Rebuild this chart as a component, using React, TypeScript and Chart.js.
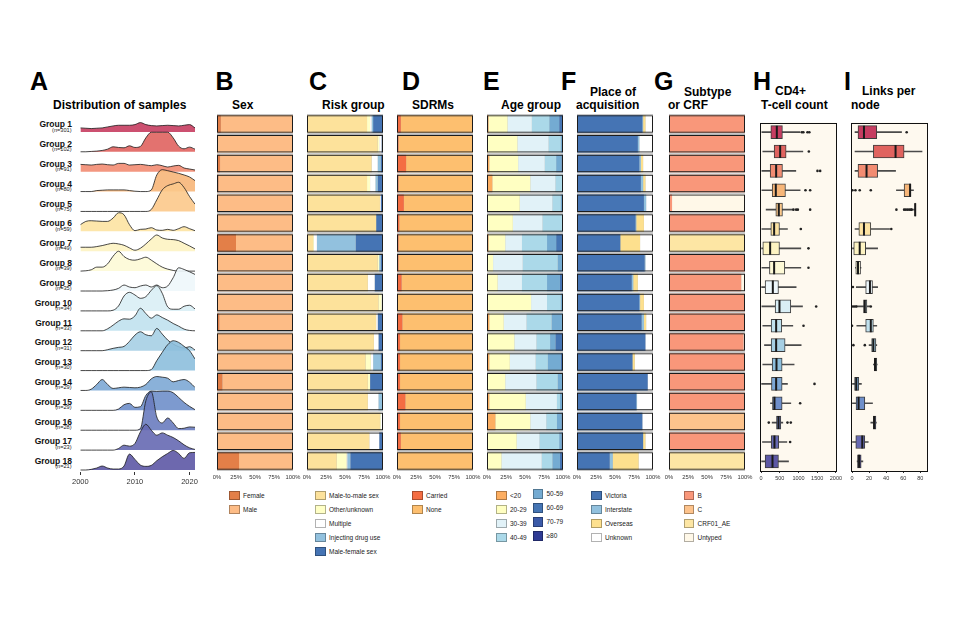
import React, { useEffect, useRef } from "react";
import { Chart, registerables } from "chart.js";

Chart.register(...registerables);

const FONT = "'Liberation Sans', Arial, Helvetica, sans-serif";
Chart.defaults.font.family = FONT;

// ---------------- data ----------------
const GROUPS = [
  "Group 1", "Group 2", "Group 3", "Group 4", "Group 5", "Group 6", "Group 7", "Group 8", "Group 9",
  "Group 10", "Group 11", "Group 12", "Group 13", "Group 14", "Group 15", "Group 16", "Group 17", "Group 18",
];
const GROUP_N = [301, 102, 91, 80, 75, 59, 49, 39, 35, 34, 33, 31, 30, 29, 29, 28, 23, 21];
const GROUP_COLORS = [
  "#c63d61", "#e0635f", "#f28c72", "#f7b679", "#fcc98b", "#fde3a2", "#fdf3c2", "#fdf9d6", "#eef7fb",
  "#d9eef5", "#c0e1ee", "#a6cfe4", "#8dbfdd", "#7da8d5", "#6f8fca", "#6a7cbf", "#6669b3", "#5d58a5",
];

// Panel A: sample density per year (row height = 60 units)
const YEARS = [2000, 2001, 2002, 2003, 2004, 2005, 2006, 2007, 2008, 2009, 2010, 2011, 2012, 2013, 2014, 2015, 2016, 2017, 2018, 2019, 2020, 2021];
const YEAR_TICKS = [2000, 2010, 2020];
const RIDGE_DENSITY: number[][] = [
  [12, 11, 10, 11, 12, 15, 18, 20, 20, 20, 22, 28, 22, 19, 18, 19, 20, 19, 18, 20, 22, 12],
  [0, 0, 1, 2, 4, 8, 15, 13, 12, 18, 13, 16, 42, 59, 59, 59, 59, 42, 17, 9, 14, 8],
  [22, 21, 20, 22, 23, 21, 20, 25, 25, 20, 21, 22, 20, 18, 21, 18, 14, 17, 19, 11, 8, 5],
  [0, 0, 0, 3, 4, 5, 5, 5, 5, 3, 1, 0, 0, 5, 50, 66, 63, 59, 55, 50, 44, 33],
  [0, 0, 0, 0, 0, 0, 0, 0, 0, 0, 0, 0, 0, 6, 35, 65, 78, 83, 88, 72, 45, 22],
  [20, 30, 32, 31, 30, 30, 40, 56, 50, 20, 2, 6, 7, 11, 4, 3, 6, 3, 8, 14, 8, 2],
  [12, 12, 12, 14, 17, 21, 24, 22, 18, 10, 3, 9, 22, 37, 49, 40, 36, 35, 32, 24, 16, 7],
  [0, 1, 4, 12, 12, 22, 45, 60, 44, 35, 33, 37, 42, 33, 22, 12, 6, 2, 0, 0, 0, 0],
  [0, 0, 0, 0, 0, 1, 3, 8, 18, 12, 10, 15, 18, 12, 18, 10, 15, 40, 70, 65, 58, 50],
  [0, 0, 0, 0, 0, 0, 2, 15, 45, 56, 48, 38, 43, 62, 76, 53, 12, 5, 5, 14, 17, 6],
  [0, 0, 0, 0, 0, 6, 17, 29, 36, 35, 45, 68, 52, 38, 48, 40, 32, 22, 14, 5, 1, 0],
  [0, 0, 0, 0, 0, 3, 7, 10, 13, 28, 47, 57, 48, 45, 67, 50, 32, 20, 12, 8, 12, 2],
  [0, 0, 0, 0, 0, 0, 0, 0, 0, 0, 0, 0, 0, 3, 30, 55, 78, 90, 85, 73, 60, 35],
  [0, 0, 4, 18, 33, 18, 6, 8, 10, 9, 8, 10, 18, 35, 42, 40, 37, 26, 30, 33, 25, 9],
  [0, 0, 0, 0, 0, 0, 0, 4, 17, 21, 9, 11, 45, 58, 57, 58, 58, 53, 39, 24, 12, 2],
  [0, 0, 0, 0, 0, 0, 0, 0, 0, 0, 0, 5, 89, 116, 40, 22, 37, 22, 5, 6, 10, 9],
  [0, 0, 0, 0, 0, 0, 0, 5, 15, 12, 20, 55, 78, 60, 45, 52, 45, 38, 28, 16, 7, 2],
  [0, 0, 2, 6, 12, 6, 3, 3, 12, 48, 32, 15, 11, 14, 28, 40, 50, 59, 50, 35, 52, 53],
];

const PCT_TICKS = [0, 25, 50, 75, 100];

// Panel B: sex (%)
const SEX_FEMALE = [5, 1, 4, 2, 0, 0, 25, 0, 0, 0, 3, 0, 0, 7, 0, 0, 0, 29];
const SEX_MALE = [95, 99, 96, 98, 100, 100, 75, 100, 100, 100, 97, 100, 100, 93, 100, 100, 100, 71];

// Panel C: risk group (%)
const RISK_MSM = [79, 93, 85, 79, 96, 91, 8, 93, 80, 94, 91, 88, 77, 80, 80, 96, 82, 39];
const RISK_OTHER = [4, 2, 0, 4, 0, 0, 1, 2, 0, 4, 0, 0, 7, 3, 0, 1, 0, 13];
const RISK_MULTIPLE = [2, 3, 8, 7, 1, 0, 4, 0, 9, 2, 2, 6, 3, 0, 14, 3, 13, 1];
const RISK_IDU = [2, 0, 4, 3, 0, 0, 51, 2, 0, 0, 0, 0, 10, 0, 6, 0, 0, 4];
const RISK_MFS = [13, 2, 3, 7, 3, 9, 36, 3, 11, 0, 7, 6, 3, 17, 0, 0, 5, 43];

// Panel D: SDRMs (%)
const SDRM_CARRIED = [5, 2, 12, 2, 9, 3, 2, 2, 6, 0, 7, 4, 4, 4, 11, 4, 5, 0];
const SDRM_NONE = [95, 98, 88, 98, 91, 97, 98, 98, 94, 100, 93, 96, 96, 96, 89, 96, 95, 100];

// Panel E: age group (%)
const AGE_LT20 = [2, 1, 3, 7, 1, 0, 2, 0, 1, 0, 3, 0, 3, 0, 3, 11, 0, 0];
const AGE_20_29 = [25, 39, 38, 50, 42, 34, 22, 8, 13, 58, 19, 36, 27, 24, 48, 46, 39, 19];
const AGE_30_39 = [32, 41, 35, 33, 43, 39, 22, 39, 32, 21, 30, 29, 34, 41, 41, 21, 30, 53];
const AGE_40_49 = [23, 16, 15, 10, 11, 26, 33, 46, 33, 18, 33, 18, 16, 28, 4, 14, 26, 14];
const AGE_50_59 = [13, 2, 7, 0, 2, 1, 12, 6, 17, 2, 15, 7, 17, 6, 3, 6, 3, 10];
const AGE_60_69 = [4, 1, 2, 0, 1, 0, 8, 1, 3, 1, 0, 9, 3, 1, 1, 2, 2, 3];
const AGE_70_79 = [1, 0, 0, 0, 0, 0, 1, 0, 1, 0, 0, 1, 0, 0, 0, 0, 0, 1];
const AGE_80P = [0, 0, 0, 0, 0, 0, 0, 0, 0, 0, 0, 0, 0, 0, 0, 0, 0, 0];

// Panel F: place of acquisition (%)
const PLACE_VIC = [86, 80, 82, 84, 88, 77, 57, 89, 72, 82, 85, 90, 73, 93, 78, 86, 87, 43];
const PLACE_INTER = [1, 2, 2, 3, 3, 1, 0, 1, 2, 1, 3, 0, 0, 0, 1, 0, 0, 4];
const PLACE_OVERSEAS = [3, 0, 3, 3, 0, 10, 26, 0, 6, 5, 3, 0, 3, 0, 0, 0, 3, 34];
const PLACE_UNKNOWN = [10, 18, 13, 10, 9, 12, 17, 10, 20, 12, 9, 10, 24, 7, 21, 14, 10, 19];

// Panel G: subtype (%)
const SUB_B = [100, 100, 100, 100, 4, 100, 0, 100, 95, 100, 100, 98, 100, 100, 100, 0, 100, 0];
const SUB_C = [0, 0, 0, 0, 0, 0, 0, 0, 0, 0, 0, 0, 0, 0, 0, 100, 0, 0];
const SUB_CRF01 = [0, 0, 0, 0, 0, 0, 100, 0, 0, 0, 0, 0, 0, 0, 0, 0, 0, 100];
const SUB_UNTYPED = [0, 0, 0, 0, 96, 0, 0, 0, 5, 0, 0, 2, 0, 0, 0, 0, 0, 0];

// Panel H: CD4+ T-cell count
const CD4_TICKS = [0, 500, 1000, 1500, 2000];
const CD4_LOW = [20, 45, 20, 20, 134, 20, 0, 20, 0, 20, 45, 90, 45, 0, 250, 295, 36, 0];
const CD4_Q1 = [260, 348, 241, 295, 393, 259, 45, 223, 107, 375, 268, 268, 295, 277, 304, 411, 268, 107];
const CD4_MED = [420, 509, 402, 393, 473, 348, 241, 348, 313, 491, 402, 402, 411, 402, 357, 465, 357, 304];
const CD4_Q3 = [570, 669, 571, 651, 571, 491, 491, 634, 464, 794, 553, 642, 562, 562, 562, 527, 473, 464];
const CD4_HIGH = [1040, 1116, 928, 1044, 848, 705, 1062, 1062, 937, 1107, 848, 1071, 883, 705, 794, 580, 688, 733];
const CD4_OUTLIERS: number[][] = [
  [1090, 1130, 1240, 1290], [1277], [1508, 1580], [1187, 1312], [866, 937, 982, 1312], [1062], [1267], [1267], [],
  [1473], [1134], [], [], [1428], [1044], [205, 705, 794], [776], [],
];

// Panel I: links per node
const LINK_TICKS = [0, 20, 40, 60, 80];
const LINK_LOW = [3.5, 3.5, 3.5, 52, 72, 3.5, 0, 4, 5, 4.4, 5.6, 20, 25, 0, 0.5, 22, 0, 6];
const LINK_Q1 = [7, 25, 7, 61, 73.5, 8, 2, 4.4, 16, 13.5, 16, 23, 26, 3, 4.7, 25, 4.4, 6.4];
const LINK_MED = [14, 51, 17, 68, 74, 14, 9, 7, 21, 15, 22, 25, 27, 5, 7.7, 26, 12, 8.3];
const LINK_Q3 = [29, 61, 30, 69, 74.5, 22, 16, 10, 24, 17.4, 25, 28, 29, 8, 15, 28, 15, 10.7];
const LINK_HIGH = [58, 82, 51, 72, 74.5, 44, 30, 10.5, 30, 21, 29, 29, 29.5, 11, 24, 28.5, 19, 12.7];
const LINK_OUTLIERS: number[][] = [
  [64], [], [], [0.5, 4, 9, 22], [52, 61, 63, 65, 67, 69, 70], [46], [], [], [1],
  [1, 3, 5, 22], [0], [1.6, 15], [], [], [], [], [], [],
];

// ---------------- series definitions ----------------
type Series = { label: string; data: number[]; color: string };

const SEX_SERIES: Series[] = [
  { label: "Female", data: SEX_FEMALE, color: "#e37f48" },
  { label: "Male", data: SEX_MALE, color: "#fdbc86" },
];
const RISK_SERIES: Series[] = [
  { label: "Male-to-male sex", data: RISK_MSM, color: "#fde29b" },
  { label: "Other/unknown", data: RISK_OTHER, color: "#ffffc6" },
  { label: "Multiple", data: RISK_MULTIPLE, color: "#ffffff" },
  { label: "Injecting drug use", data: RISK_IDU, color: "#92c1de" },
  { label: "Male-female sex", data: RISK_MFS, color: "#4574b4" },
];
const SDRM_SERIES: Series[] = [
  { label: "Carried", data: SDRM_CARRIED, color: "#f46d43" },
  { label: "None", data: SDRM_NONE, color: "#fdbf6f" },
];
const AGE_SERIES: Series[] = [
  { label: "<20", data: AGE_LT20, color: "#fdae61" },
  { label: "20-29", data: AGE_20_29, color: "#ffffc2" },
  { label: "30-39", data: AGE_30_39, color: "#e1f2f8" },
  { label: "40-49", data: AGE_40_49, color: "#abd9e9" },
  { label: "50-59", data: AGE_50_59, color: "#74abd2" },
  { label: "60-69", data: AGE_60_69, color: "#4575b4" },
  { label: "70-79", data: AGE_70_79, color: "#3b5aa8" },
  { label: "\u226580", data: AGE_80P, color: "#2f3b94" },
];
const PLACE_SERIES: Series[] = [
  { label: "Victoria", data: PLACE_VIC, color: "#4574b4" },
  { label: "Interstate", data: PLACE_INTER, color: "#92c1de" },
  { label: "Overseas", data: PLACE_OVERSEAS, color: "#fde08e" },
  { label: "Unknown", data: PLACE_UNKNOWN, color: "#ffffff" },
];
const SUB_SERIES: Series[] = [
  { label: "B", data: SUB_B, color: "#f9977a" },
  { label: "C", data: SUB_C, color: "#fdc38c" },
  { label: "CRF01_AE", data: SUB_CRF01, color: "#fde6a4" },
  { label: "Untyped", data: SUB_UNTYPED, color: "#fff8e8" },
];

// ---------------- helpers ----------------
const AREA_TOP = 114;
const AREA_H = 357;
const AXIS_H = 14;
const ROW_UNITS = 60;

function hexA(hex: string, a: number) {
  const n = parseInt(hex.slice(1), 16);
  return `rgba(${(n >> 16) & 255},${(n >> 8) & 255},${n & 255},${a})`;
}

const panelPlugin = {
  id: "panelFrame",
  beforeDraw(chart: any, _args: any, opts: any) {
    if (!opts || !opts.bg) return;
    const { ctx, chartArea: a } = chart;
    ctx.save();
    ctx.fillStyle = opts.bg;
    ctx.fillRect(a.left, a.top, a.width, a.height);
    ctx.restore();
  },
  afterDatasetsDraw(chart: any, _args: any, opts: any) {
    if (!opts || !opts.border) return;
    const { ctx, chartArea: a } = chart;
    ctx.save();
    ctx.strokeStyle = opts.border;
    ctx.lineWidth = 1;
    ctx.strokeRect(Math.round(a.left) + 0.5, Math.round(a.top) + 0.5, Math.round(a.width) - 1, Math.round(a.height) - 1);
    ctx.restore();
  },
};

function fixedTicks(values: number[]) {
  return (scale: any) => {
    scale.ticks = values.map((v) => ({ value: v }));
  };
}

function ChartBox(props: { left: number; top: number; width: number; height: number; make: () => any }) {
  const ref = useRef<HTMLCanvasElement>(null);
  useEffect(() => {
    const chart = new Chart(ref.current as HTMLCanvasElement, props.make());
    return () => chart.destroy();
  }, []);
  return (
    <canvas
      ref={ref}
      width={props.width}
      height={props.height}
      style={{ position: "absolute", left: props.left, top: props.top, width: props.width, height: props.height }}
    />
  );
}

function stackedConfig(series: Series[]) {
  const BAR_PCT = 0.88;
  return {
    type: "bar",
    data: {
      labels: GROUPS,
      datasets: [
        ...series.map((s) => ({
          label: s.label,
          data: s.data,
          backgroundColor: s.color,
          borderWidth: 0,
          barPercentage: BAR_PCT,
          categoryPercentage: 1,
          stack: "main",
        })),
        {
          label: "outline",
          data: GROUPS.map(() => 100),
          backgroundColor: "rgba(0,0,0,0)",
          borderColor: "#1c1c1c",
          borderWidth: 1,
          borderSkipped: false,
          barPercentage: BAR_PCT,
          categoryPercentage: 1,
          grouped: false,
          stack: "outline",
          order: -1,
        },
        {
          label: "gap",
          data: GROUPS.map(() => 100),
          backgroundColor: "#b4b4b4",
          borderWidth: 0,
          barPercentage: 0.985,
          categoryPercentage: 1,
          grouped: false,
          stack: "gap",
          order: 20,
        },
      ],
    },
    options: {
      indexAxis: "y",
      animation: false,
      responsive: false,
      devicePixelRatio: 1,
      layout: { padding: { left: 12, right: 12, top: 0, bottom: 0 } },
      plugins: { legend: { display: false }, tooltip: { enabled: false } },
      scales: {
        x: {
          type: "linear",
          stacked: true,
          min: 0,
          max: 100,
          afterBuildTicks: fixedTicks(PCT_TICKS),
          afterFit: (s: any) => {
            s.height = AXIS_H;
          },
          ticks: {
            font: { size: 5.8, family: FONT },
            color: "#333",
            padding: 3,
            maxRotation: 0,
            autoSkip: false,
            callback: (v: any) => v + "%",
          },
          grid: { display: false, drawTicks: false },
          border: { display: false },
        },
        y: { type: "category", stacked: true, display: false, offset: true },
      },
    },
  };
}

function boxConfig(
  low: number[], q1: number[], med: number[], q3: number[], high: number[], outliers: number[][],
  min: number, max: number, ticks: number[],
) {
  const outlierPts: { x: number; y: string }[] = [];
  outliers.forEach((arr, i) => arr.forEach((v) => outlierPts.push({ x: v, y: GROUPS[i] })));
  return {
    type: "bar",
    data: {
      labels: GROUPS,
      datasets: [
        {
          type: "bar",
          label: "whisker",
          data: GROUPS.map((_, i) => [low[i], high[i]]),
          backgroundColor: "#4a4a4a",
          borderWidth: 0,
          barThickness: 1,
          grouped: false,
          order: 3,
        },
        {
          type: "bar",
          label: "box",
          data: GROUPS.map((_, i) => [q1[i], q3[i]]),
          backgroundColor: GROUP_COLORS,
          borderColor: "#3c3c3c",
          borderWidth: 1,
          borderSkipped: false,
          barThickness: 13,
          grouped: false,
          order: 2,
        },
        {
          type: "scatter",
          label: "median",
          data: GROUPS.map((g, i) => ({ x: med[i], y: g })),
          pointStyle: "line",
          pointRotation: 90,
          pointRadius: 6.5,
          pointBorderColor: "#1a1a1a",
          pointBorderWidth: 2,
          order: 1,
        },
        {
          type: "scatter",
          label: "outliers",
          data: outlierPts,
          pointRadius: 1.3,
          pointBackgroundColor: "#222",
          pointBorderWidth: 0,
          order: 0,
        },
      ],
    },
    options: {
      indexAxis: "y",
      animation: false,
      responsive: false,
      devicePixelRatio: 1,
      layout: { padding: { left: 10, right: 10, top: 0, bottom: 0 } },
      plugins: {
        legend: { display: false },
        tooltip: { enabled: false },
        panelFrame: { bg: "#fef9ef", border: "#111" },
      },
      scales: {
        x: {
          type: "linear",
          min,
          max,
          afterBuildTicks: fixedTicks(ticks),
          afterFit: (s: any) => {
            s.height = AXIS_H;
          },
          ticks: {
            font: { size: 5.5, family: FONT },
            color: "#333",
            padding: 2,
            maxRotation: 0,
            autoSkip: false,
            callback: (v: any) => String(v),
          },
          grid: { display: true, drawOnChartArea: false, drawTicks: true, tickLength: 2, color: "#333" },
          border: { display: false },
        },
        y: { type: "category", display: false, offset: true },
      },
    },
    plugins: [panelPlugin],
  };
}

function ridgeConfig() {
  return {
    type: "line",
    data: {
      datasets: GROUPS.map((g, i) => {
        const base = (GROUPS.length - 1 - i) * ROW_UNITS;
        return {
          label: g,
          data: YEARS.map((yr, j) => ({ x: yr, y: base + RIDGE_DENSITY[i][j] })),
          fill: { value: base },
          backgroundColor: hexA(GROUP_COLORS[i], 0.9),
          borderColor: "#1a1a1a",
          borderWidth: 0.8,
          pointRadius: 0,
          cubicInterpolationMode: "monotone",
          order: GROUPS.length - 1 - i,
        };
      }),
    },
    options: {
      animation: false,
      responsive: false,
      devicePixelRatio: 1,
      layout: { padding: { left: 10, right: 10, top: 0, bottom: 0 } },
      plugins: { legend: { display: false }, tooltip: { enabled: false } },
      scales: {
        x: {
          type: "linear",
          min: 2000,
          max: 2021,
          afterBuildTicks: fixedTicks(YEAR_TICKS),
          afterFit: (s: any) => {
            s.height = AXIS_H;
          },
          ticks: {
            font: { size: 7.5, family: FONT },
            color: "#333",
            padding: 2,
            maxRotation: 0,
            autoSkip: false,
            callback: (v: any) => String(v),
          },
          grid: { display: true, drawOnChartArea: false, drawTicks: true, tickLength: 3, color: "#333" },
          border: { display: false },
        },
        y: { type: "linear", display: false, min: -6, max: 1080 },
      },
    },
  };
}

// ---------------- text helpers ----------------
function Txt(props: {
  x: number; y: number; size: number; bold?: boolean; align?: "left" | "right"; color?: string; children: any;
}) {
  const { x, y, size, bold, align = "left", color = "#000" } = props;
  const style: any = {
    position: "absolute",
    top: y - 0.49 * size,
    fontSize: size,
    lineHeight: `${size}px`,
    fontFamily: FONT,
    fontWeight: bold ? 700 : 400,
    whiteSpace: "nowrap",
    color,
  };
  if (align === "right") {
    style.left = x - 200;
    style.width = 200;
    style.textAlign = "right";
  } else {
    style.left = x;
  }
  return <div style={style}>{props.children}</div>;
}

function LegendBlock(props: { x: number; y: number; items: Series[] }) {
  const PITCH = 14;
  return (
    <>
      {props.items.map((it, k) => {
        const cy = props.y + k * PITCH;
        return (
          <React.Fragment key={it.label}>
            <div
              style={{
                position: "absolute",
                left: props.x,
                top: cy - 4.8,
                width: 10.5,
                height: 9.5,
                boxSizing: "border-box",
                background: it.color,
                border: "0.8px solid rgba(0,0,0,0.3)",
              }}
            />
            <Txt x={props.x + 14} y={cy + 0.3} size={6.5} color="#222">
              {it.label}
            </Txt>
          </React.Fragment>
        );
      })}
    </>
  );
}

const BAR_PANELS: { areaLeft: number; series: Series[] }[] = [
  { areaLeft: 217, series: SEX_SERIES },
  { areaLeft: 307, series: RISK_SERIES },
  { areaLeft: 397, series: SDRM_SERIES },
  { areaLeft: 487, series: AGE_SERIES },
  { areaLeft: 577, series: PLACE_SERIES },
  { areaLeft: 669, series: SUB_SERIES },
];

const LETTERS: [string, number][] = [
  ["A", 30], ["B", 215.5], ["C", 309], ["D", 402], ["E", 483], ["F", 561], ["G", 654], ["H", 753], ["I", 844],
];

export default function App() {
  return (
    <div
      style={{
        position: "absolute",
        left: 0,
        top: 0,
        width: 960,
        height: 630,
        background: "#ffffff",
        overflow: "hidden",
        fontFamily: FONT,
      }}
    >
      {/* panel letters */}
      {LETTERS.map(([l, x]) => (
        <Txt key={l} x={x} y={81} size={25} bold>
          {l}
        </Txt>
      ))}

      {/* titles */}
      <Txt x={53} y={105} size={12} bold>Distribution of samples</Txt>
      <Txt x={232} y={105} size={12} bold>Sex</Txt>
      <Txt x={322} y={105} size={12} bold>Risk group</Txt>
      <Txt x={412} y={105} size={12} bold>SDRMs</Txt>
      <Txt x={501} y={105} size={12} bold>Age group</Txt>
      <Txt x={590} y={91.5} size={12} bold>Place of</Txt>
      <Txt x={576} y={105} size={12} bold>acquisition</Txt>
      <Txt x={684} y={91.5} size={12} bold>Subtype</Txt>
      <Txt x={668} y={105} size={12} bold>or CRF</Txt>
      <Txt x={775} y={90.5} size={12} bold>CD4+</Txt>
      <Txt x={761} y={105} size={12} bold>T-cell count</Txt>
      <Txt x={862} y={91} size={12} bold>Links per</Txt>
      <Txt x={851} y={105} size={12} bold>node</Txt>

      {/* group labels */}
      {GROUPS.map((g, i) => (
        <React.Fragment key={g}>
          <Txt x={72} y={124.5 + i * 19.82} size={8.5} bold align="right" color="#111">
            {g}
          </Txt>
          <Txt x={71.5} y={130.3 + i * 19.82} size={5.6} align="right" color="#222">
            {`(n=${GROUP_N[i]})`}
          </Txt>
        </React.Fragment>
      ))}

      {/* Panel A */}
      <ChartBox left={70} top={112} width={135} height={374} make={ridgeConfig} />

      {/* Panels B-G */}
      {BAR_PANELS.map((p) => (
        <ChartBox
          key={p.areaLeft}
          left={p.areaLeft - 12}
          top={AREA_TOP}
          width={100}
          height={AREA_H + AXIS_H}
          make={() => stackedConfig(p.series)}
        />
      ))}

      {/* Panel H */}
      <ChartBox
        left={750}
        top={AREA_TOP}
        width={97}
        height={AREA_H + AXIS_H}
        make={() => boxConfig(CD4_LOW, CD4_Q1, CD4_MED, CD4_Q3, CD4_HIGH, CD4_OUTLIERS, -30, 2030, CD4_TICKS)}
      />
      {/* Panel I */}
      <ChartBox
        left={841}
        top={AREA_TOP}
        width={97}
        height={AREA_H + AXIS_H}
        make={() => boxConfig(LINK_LOW, LINK_Q1, LINK_MED, LINK_Q3, LINK_HIGH, LINK_OUTLIERS, -1.2, 89, LINK_TICKS)}
      />

      {/* legends */}
      <LegendBlock x={229} y={495.5} items={SEX_SERIES} />
      <LegendBlock x={315} y={495.5} items={RISK_SERIES} />
      <LegendBlock x={412} y={495.5} items={SDRM_SERIES} />
      <LegendBlock x={496} y={495.5} items={AGE_SERIES.slice(0, 4)} />
      <LegendBlock x={532.5} y={494} items={AGE_SERIES.slice(4)} />
      <LegendBlock x={591} y={495.5} items={PLACE_SERIES} />
      <LegendBlock x={683.5} y={495.5} items={SUB_SERIES} />
    </div>
  );
}
